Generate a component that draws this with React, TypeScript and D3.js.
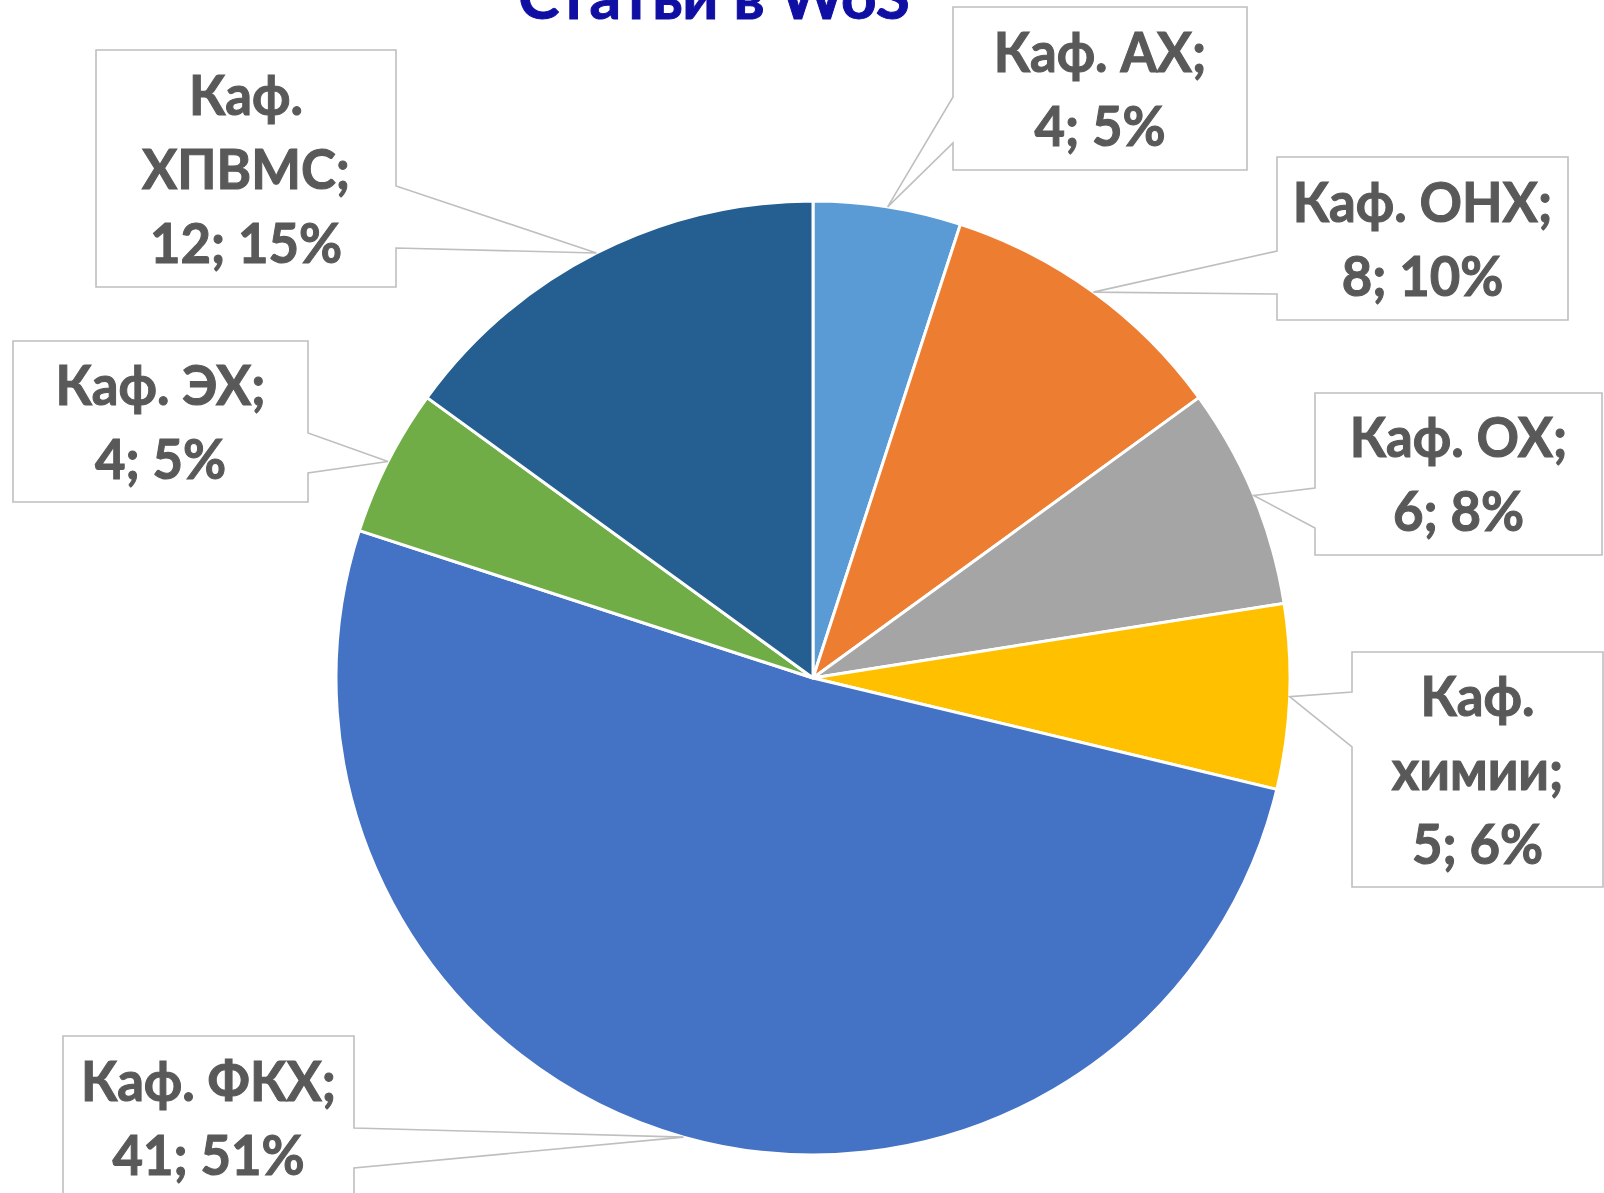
import React from "react";
import * as d3 from "d3";

// ---- data ----
const categories = ["Каф. АХ", "Каф. ОНХ", "Каф. ОХ", "Каф. химии", "Каф. ФКХ", "Каф. ЭХ", "Каф. ХПВМС"];
const values = [4, 8, 6, 5, 41, 4, 12];
const colors = ["#5B9BD5", "#ED7D31", "#A5A5A5", "#FFC000", "#4472C4", "#70AD47", "#255E91"];
const title = "Статьи в WoS";

// ---- layout of the callout boxes (x, y, w, h, pointer side, pointer base y0/y1, wrap name) ----
const callouts = [
  { x: 953, y: 7, w: 294, h: 163, side: "left", b0: 97, b1: 143, wrap: false },
  { x: 1277, y: 157, w: 291, h: 163, side: "left", b0: 251, b1: 294, wrap: false },
  { x: 1315, y: 393, w: 287, h: 162, side: "left", b0: 488, b1: 528, wrap: false },
  { x: 1352, y: 652, w: 251, h: 235, side: "left", b0: 692, b1: 747, wrap: true },
  { x: 63, y: 1036, w: 291, h: 163, side: "right", b0: 1128, b1: 1168, wrap: false },
  { x: 13, y: 341, w: 295, h: 161, side: "right", b0: 433, b1: 473, wrap: false },
  { x: 96, y: 50, w: 300, h: 237, side: "right", b0: 186, b1: 248, wrap: true },
];

const W = 1604;
const H = 1193;
const CX = 813;
const CY = 678;
const R = 477;
const FONT = "Lato, 'Open Sans', sans-serif";
const FS = 56;
const LINE = 74;
const SX = 0.94;

export default function App() {
  const total = d3.sum(values);
  const pie = d3.pie<number>().sort(null).value((d) => d).startAngle(0).endAngle(2 * Math.PI);
  const arcs = pie(values);
  const arc = d3.arc<d3.PieArcDatum<number>>().innerRadius(0).outerRadius(R);

  const calloutPath = (c: typeof callouts[number], tx: number, ty: number) => {
    const x0 = c.x, x1 = c.x + c.w, y0 = c.y, y1 = c.y + c.h;
    if (c.side === "left") {
      return `M${x0},${y0}H${x1}V${y1}H${x0}V${c.b1}L${tx},${ty}L${x0},${c.b0}Z`;
    }
    return `M${x0},${y0}H${x1}V${c.b0}L${tx},${ty}L${x1},${c.b1}V${y1}H${x0}Z`;
  };

  return (
    <svg width={W} height={H} style={{ position: "absolute", left: 0, top: 0, background: "#fff" }}>
      <rect x={0} y={0} width={W} height={H} fill="#ffffff" />
      <text x={714} y={19} textAnchor="middle" fontFamily={FONT} fontWeight={700} fontSize={62} fill="#0F0FA3"
        stroke="#0F0FA3" strokeWidth={1}>
        {title}
      </text>
      <g transform={`translate(${CX},${CY})`}>
        {arcs.map((a, i) => (
          <path key={i} d={arc(a) || ""} fill={colors[i]} stroke="#ffffff" strokeWidth={3} strokeLinejoin="round" />
        ))}
      </g>
      {arcs.map((a, i) => {
        const c = callouts[i];
        const mid = (a.startAngle + a.endAngle) / 2;
        const tx = CX + Math.sin(mid) * R;
        const ty = CY - Math.cos(mid) * R;
        const pct = Math.round((values[i] / total) * 100);
        const name = categories[i];
        const lines = c.wrap
          ? [name.split(" ")[0], name.split(" ").slice(1).join(" ") + ";", `${values[i]}; ${pct}%`]
          : [name + ";", `${values[i]}; ${pct}%`];
        const cy = c.y + c.h / 2;
        const cx = c.x + c.w / 2;
        return (
          <g key={i}>
            <path d={calloutPath(c, tx, ty)} fill="#ffffff" stroke="#BFBFBF" strokeWidth={1.6} />
            {lines.map((l, j) => (
              <text
                key={j}
                transform={`translate(${cx},${cy + (j - (lines.length - 1) / 2) * LINE + 20}) scale(${SX},1)`}
                textAnchor="middle"
                fontFamily={FONT}
                fontWeight={700}
                fontSize={FS}
                fill="#595959"
                stroke="#595959"
                strokeWidth={1.1}
              >
                {l}
              </text>
            ))}
          </g>
        );
      })}
    </svg>
  );
}
